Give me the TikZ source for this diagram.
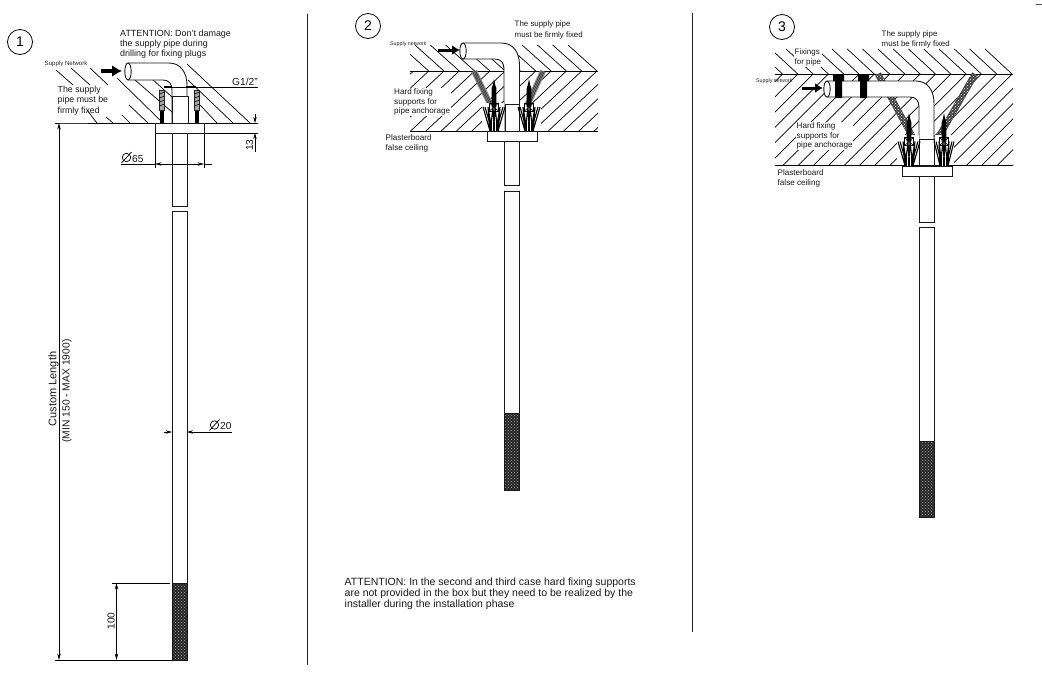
\documentclass[tikz,border=0pt]{standalone}
\usepackage{fontspec}
\setmainfont{Liberation Sans}
\usetikzlibrary{patterns,arrows.meta}
\tikzset{
 x=1pt,y=-1pt,
 part/.style={draw=black!90,line width=.9pt},
 hatchline/.style={draw=black,line width=.7pt},
 wall/.style={draw=black,line width=.9pt},
 dimline/.style={draw=black,line width=.65pt},
 dimtip/.style={-{Stealth[length=6pt,width=3.4pt]}},
 dimboth/.style={{Stealth[length=6.5pt,width=3.4pt]}-{Stealth[length=6.5pt,width=3.4pt]}},
 lbl/.style={anchor=north west,inner sep=1pt,align=left,text=black!90,font=\fontsize{8.1}{9.7}\selectfont},
 tiny/.style={anchor=west,inner sep=1pt,text=black!85,font=\fontsize{6.1}{7}\selectfont},
 dimtxt/.style={inner sep=0pt,text=black!90,font=\fontsize{10.2}{12}\selectfont},
 bignum/.style={circle,draw=black,line width=.8pt,minimum size=25pt,inner sep=0pt,font=\fontsize{14}{16}\selectfont},
 flow/.style={-{Latex[length=10pt,width=12pt]},line width=3.4pt,draw=black},
 flowsmall/.style={-{Latex[length=8pt,width=10pt]},line width=3pt,draw=black}
}
\newcommand{\tube}[6]{%
 \path[fill=white] (#1,#2) -- ({#5-18},#2) .. controls ({#5-6},#2) and (#5,{#2+10}) .. (#5,{#2+22}) -- (#5,#6) -- (#4,#6) -- (#4,{#3+10}) .. controls (#4,{#3+4}) and ({#4-3},#3) .. ({#4-9},#3) -- (#1,#3) -- cycle;
 \draw[part] (#1,#2) -- ({#5-18},#2) .. controls ({#5-6},#2) and (#5,{#2+10}) .. (#5,{#2+22}) -- (#5,#6);
 \draw[part] (#1,#3) -- ({#4-9},#3) .. controls ({#4-3},#3) and (#4,{#3+4}) .. (#4,{#3+10}) -- (#4,#6);
 \draw[part,fill=white] (#1,{(#2+#3)/2}) ellipse [x radius=3.2,y radius={(#3-#2)/2}];
}
\newcommand{\stem}[7]{%
 \draw[part] (#1,#4) -- (#1,#3) -- (#2,#3) -- (#2,#4) -- cycle;
 \draw[part] (#1,#6) -- (#1,#5) -- (#2,#5) -- (#2,#6);
 \fill[black!85] (#1,#6) rectangle (#2,#7);
 \fill[pattern=crosshatch dots,pattern color=white!65!black] (#1,#6) rectangle (#2,#7);
 \draw[part] (#1,#6) rectangle (#2,#7);
}
\newcommand{\fixing}[4]{%
 \fill[black] ({#1-1.2},{#3+6}) -- (#1,#3) -- ({#1+1.2},{#3+6}) -- ({#1+2.3},{#3+9}) -- ({#1+2.3},{#2-24}) -- ({#1-2.3},{#2-24}) -- ({#1-2.3},{#3+9}) -- cycle;
 \draw[black,line width=1.1pt,line join=miter]
   ({#1-#4},{#2-24}) -- ({#1-4},#2) -- ({#1-#4+5},{#2-24}) -- ({#1-3},{#2-6}) -- ({#1-1},{#2-24}) -- (#1,{#2-6}) -- ({#1+1},{#2-24}) -- ({#1+3},{#2-6}) -- ({#1+#4-5},{#2-24}) -- ({#1+4},#2) -- ({#1+#4},{#2-24});
 \draw[black,line width=1.1pt] ({#1-#4+2},{#2-24}) -- ({#1-2},#2);
 \draw[black,line width=1.1pt] ({#1+#4-2},{#2-24}) -- ({#1+2},#2);
 \draw[black,line width=.6pt] ({#1-4.5},{#2-28}) rectangle ({#1+4.5},{#2-20});
 \draw[black,line width=.6pt] ({#1-4.5},{#2-28}) -- ({#1+4.5},{#2-20}) ({#1+4.5},{#2-28}) -- ({#1-4.5},{#2-20});
 \fill[black] ({#1-4.5},{#2-9}) rectangle ({#1+4.5},#2);
 \fill[white] ({#1-1.6},{#2-9}) rectangle ({#1-1},#2);
 \fill[white] ({#1+1},{#2-9}) rectangle ({#1+1.6},#2);
}
\newcommand{\strap}[4]{%
 \draw[black!75,line width=6.4pt] (#1,#2) -- (#3,#4);
 \fill[pattern=crosshatch dots,pattern color=white] ({#1-3},#2) -- ({#1+3},#2) -- ({#3+3},#4) -- ({#3-3},#4) -- cycle;
}
\newcommand{\stripes}[4]{%
 \draw[black!45,line width=6pt] (#1,#2) -- (#3,#4);
 \draw[black!80,line width=.6pt] ({#1-1.6},#2) -- ({#3-1.6},#4) (#1,#2) -- (#3,#4) ({#1+1.6},#2) -- ({#3+1.6},#4);
}
\begin{document}
\begin{tikzpicture}
\useasboundingbox (0,0) rectangle (1042,678);
\fill[white] (0,0) rectangle (1042,678);
\draw[line width=.9pt,black!85] (307,14) -- (307,665);
\draw[line width=.9pt,black!85] (692,13) -- (692,632);
\draw[line width=.6pt,black!70] (1036,4) -- (1042,4);

%%%%%% PANEL 1
\node[bignum] (n1) at (20,42) {1};
\draw[hatchline] (56,70) -- (73,85);
\draw[hatchline] (71,68) -- (90,85);
\draw[hatchline] (90,68) -- (108,85);
\draw[hatchline] (117,78) -- (160,120);
\draw[hatchline] (135,80) -- (172,112);
\draw[hatchline] (152,79) -- (172,97);
\draw[hatchline] (129,105) -- (148,123);
\draw[hatchline] (122,115) -- (130,123);
\draw[hatchline] (106,117) -- (113,123);
\draw[hatchline] (87,110) -- (97,123);
\draw[hatchline] (187,64) -- (250,123);
\draw[hatchline] (188,80) -- (233,123);
\draw[hatchline] (200,105) -- (217,123);
\tube{128}{63}{80}{172}{187}{123}
\draw[part,fill=white] (172,96) rectangle (188,123);
\draw[wall] (88,123) -- (155,123) (204,123) -- (258,123);
\draw[line width=.6pt,black!75] (55,123) -- (88,123);
\draw[part,fill=white] (155,123) rectangle (204,133);
\stem{172}{187}{133}{206}{211}{583}{660}
\foreach \cx in {162,197}{
  \fill[black] ({\cx-2},110) rectangle ({\cx+2},123);
  \draw[black!85,line width=.6pt,fill=black!35] ({\cx-2.5},90) rectangle ({\cx+2.5},110);
  \draw[black,line width=.6pt] ({\cx-2.5},94) -- ({\cx+2.5},92) ({\cx-2.5},98) -- ({\cx+2.5},96) ({\cx-2.5},102) -- ({\cx+2.5},100) ({\cx-2.5},106) -- ({\cx+2.5},104);
}
\draw[flow] (101,71) -- (122,71);
\node[lbl,font=\fontsize{8.95}{10}\selectfont] (t1) at (119,28.5) {ATTENTION: Don't damage\\the supply pipe during\\drilling for fixing plugs};
\node[tiny] (sn1) at (43.5,63.5) {Supply Network};
\node[lbl,font=\fontsize{8.8}{10.6}\selectfont] (t2) at (56.5,84.5) {The supply\\pipe must be\\firmly fixed};
\coordinate (ga) at (164,87); \coordinate (gb) at (196,87); \coordinate (ge) at (258,87);
\draw[dimline] (ga) -- (ge);
\draw[line width=1.5pt] (ga) -- (172,87) (186,87) -- (gb);
\node[dimtxt,anchor=base west] (g) at (232,85) {G1/2"};
\draw[dimline] (204,133) -- (258,133);
\draw[dimline,dimtip] (255,114) -- (255,123);
\draw[dimline,dimtip] (255,152) -- (255,133);
\node[dimtxt,rotate=90,anchor=base] (d13) at (253,145) {13};
\draw[dimline] (155,133) -- (155,168) (204,133) -- (204,168);
\draw[dimline,dimboth] (155,164) -- (204,164);
\draw[dimline] (121,164) -- (155,164) (204,164) -- (212,164);
\node[dimtxt,anchor=base west] (d65) at (132,162) {65};
\draw[line width=.7pt,black] (126.5,157.5) circle (4.2);
\draw[line width=.7pt,black] (121.5,163) -- (131.5,152);
\draw[dimline] (55,123) -- (59,123);
\draw[dimline] (55,660) -- (172,660);
\draw[dimline,dimboth] (59,123) -- (59,660);
\node[rotate=90,inner sep=0pt,text=black!90,font=\fontsize{11}{13}\selectfont] (cl) at (53.5,389) {Custom Length};
\node[rotate=90,inner sep=0pt,text=black!90,font=\fontsize{10.3}{12}\selectfont] (mm) at (67,391) {(MIN 150 - MAX 1900)};
\draw[dimline,dimtip] (164,432) -- (172,432);
\draw[dimline,dimtip] (232,432) -- (187,432);
\node[dimtxt,anchor=base west] (d20) at (220,429) {20};
\draw[line width=.7pt,black] (214.5,425) circle (4.2);
\draw[line width=.7pt,black] (209.5,430.5) -- (219.5,419.5);
\draw[dimline] (112,583) -- (170,583);
\draw[dimline,dimboth] (116.5,583) -- (116.5,660);
\node[dimtxt,rotate=90,anchor=base] (d100) at (114.5,621) {100};

%%%%%% PANEL 2
\node[bignum] (n2) at (368,26) {2};
\begin{scope}
 \clip (410,40) rectangle (598,71);
 \foreach \i in {0,...,11}{ \draw[hatchline] ({597-\i*15.3-29},45) -- ({597-\i*15.3},71); }
\end{scope}
\begin{scope}
 \clip (410,71) rectangle (598,131);
 \foreach \i in {-4,...,12}{ \draw[hatchline] ({597-\i*15.3},71) -- ({597-\i*15.3-64},131); }
\end{scope}
\draw[wall] (410,71) -- (598,71) (410,131) -- (598,131);
\stripes{474}{71}{491}{106}
\stripes{543}{71}{527}{106}
\tube{463}{43}{59}{504}{519.5}{131}
\draw[part,fill=white] (505,104) rectangle (519,131);
\fill[white] (482,103) rectangle (503.5,131);
\fill[white] (520,103) rectangle (541,131);
\fixing{494}{131}{79}{11}
\fixing{529}{131}{79}{11}
\draw[part,fill=white] (487,131) rectangle (537,141);
\stem{504}{519}{141}{185}{191}{413}{490}
\draw[flowsmall] (438,50) -- (460,50);
\node[tiny,font=\fontsize{5.3}{6}\selectfont] (sn2) at (389,44.5) {Supply network};
\node[lbl,font=\fontsize{7.9}{10.6}\selectfont] (t3) at (513.5,20) {The supply pipe\\must be firmly fixed};
\node[lbl,fill=white,inner sep=.5pt] (t4) at (393.5,88) {Hard fixing\\supports for\\pipe anchorage};
\node[lbl] (t5) at (384.5,133.5) {Plasterboard\\false ceiling};

%%%%%% PANEL 3
\node[bignum] (n3) at (782,27) {3};
\begin{scope}
 \clip (775,40) rectangle (1013,74);
 \foreach \i in {0,...,15}{ \draw[hatchline] ({1012-\i*15.3-27},49) -- ({1012-\i*15.3},74); }
\end{scope}
\begin{scope}
 \clip (775,74) rectangle (1013,165.5);
 \foreach \i in {-6,...,16}{ \draw[hatchline] ({1012-\i*15.3},74) -- ({1012-\i*15.3-92},166); }
\end{scope}
\draw[wall] (775,74) -- (1013,74) (775,165.5) -- (1013,165.5);
\strap{878}{74}{917}{145}
\strap{975}{74}{937}{140}
\tube{827}{81}{97}{919}{934}{165.5}
\draw[part,fill=white] (919,139) rectangle (934,165.5);
\fill[white] (897,135) rectangle (918.5,165);
\fill[white] (935,135) rectangle (954,165);
\fixing{909}{165.5}{113}{11}
\fixing{944}{165.5}{113}{10}
\fill[black] (833,74) rectangle (844,81) (835,74) rectangle (842,98);
\fill[black] (858,74) rectangle (869,81) (860,74) rectangle (867,98);
\draw[part,fill=white] (902,166) rectangle (952,176);
\stem{919}{934}{176}{222}{227}{441}{517}
\draw[flowsmall] (802,88) -- (823,88);
\node[lbl,font=\fontsize{7.9}{10.4}\selectfont] (t6) at (880.5,29.5) {The supply pipe\\must be firmly fixed};
\node[lbl,font=\fontsize{7.9}{10}\selectfont,fill=white,inner sep=.5pt] (t7) at (794,48) {Fixings\\for pipe};
\node[tiny,font=\fontsize{5.3}{6}\selectfont] (sn3) at (755,81.5) {Supply network};
\node[lbl,fill=white,inner sep=.5pt] (t8) at (796,122) {Hard fixing\\supports for\\pipe anchorage};
\node[lbl] (t9) at (776.5,168.5) {Plasterboard\\false ceiling};

%%%%%% NOTE
\node[lbl,font=\fontsize{10.5}{10.9}\selectfont] (note) at (343.5,576.5) {ATTENTION: In the second and third case hard fixing supports\\are not provided in the box but they need to be realized by the\\installer during the installation phase};
\end{tikzpicture}
\end{document}
